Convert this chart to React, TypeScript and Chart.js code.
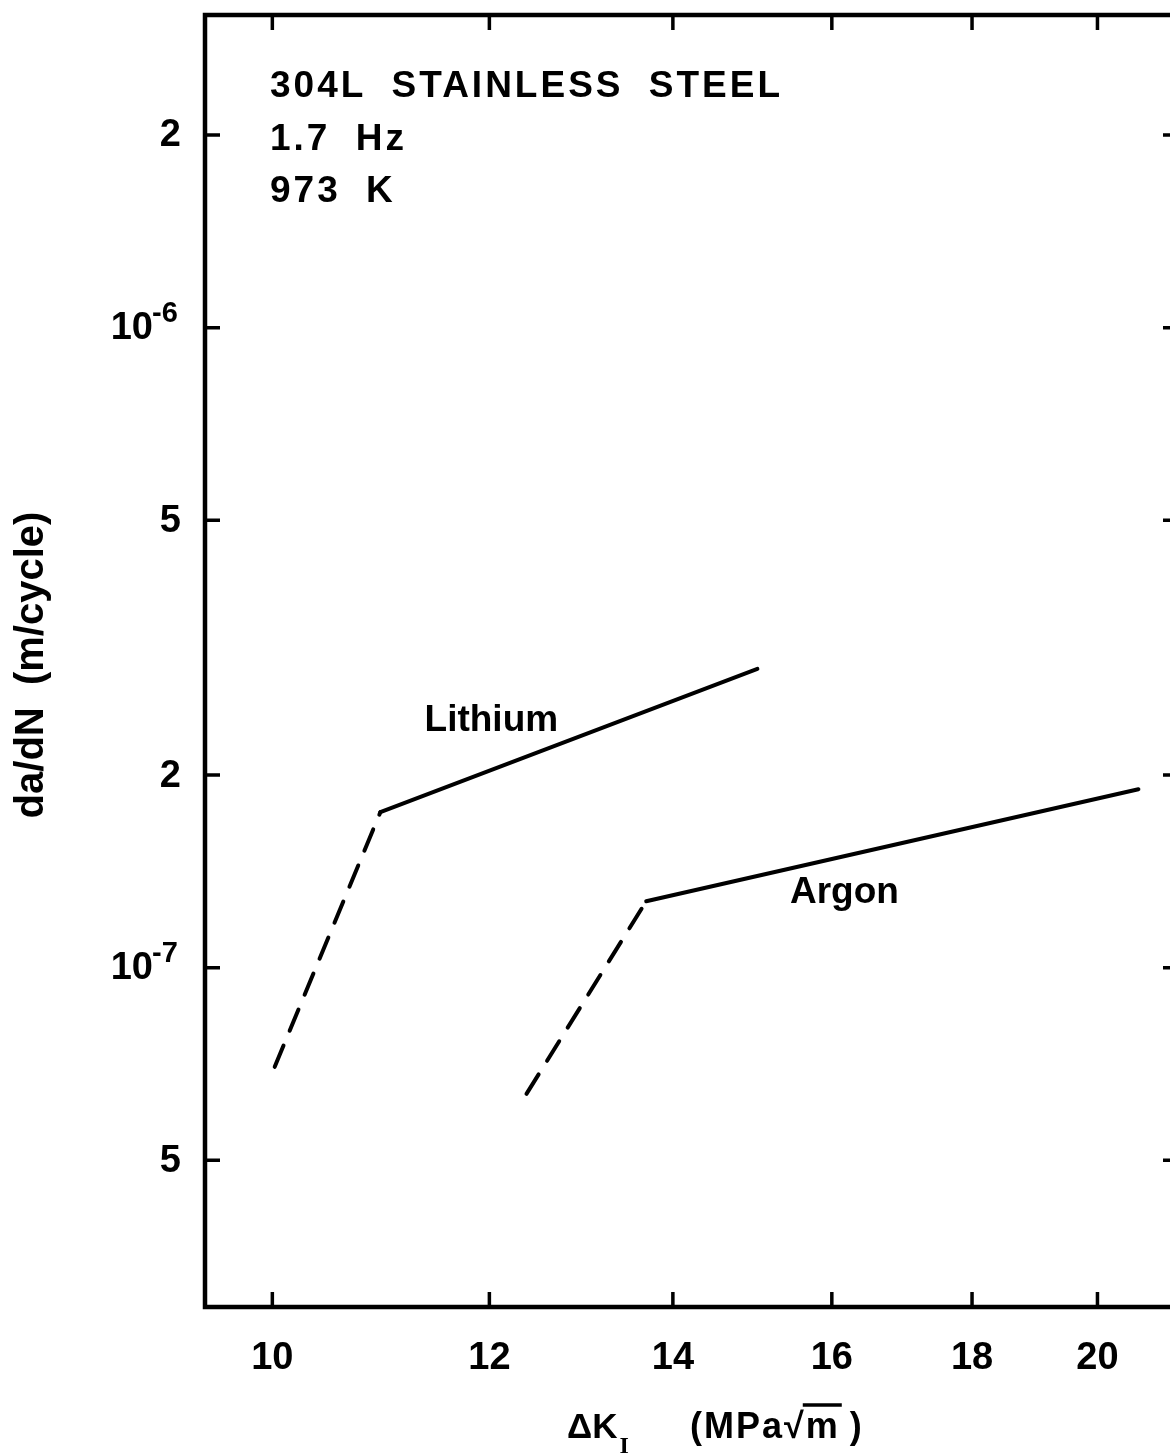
import React, { useEffect, useRef } from "react";
import { Chart, registerables } from "chart.js";

Chart.register(...registerables);

// Axis ranges (log-log)
const kRange = [9.45, 21.4];
const rateRange = [2.95e-8, 3.08e-6];

// Tick marks and their labels
const kTicks = [10, 12, 14, 16, 18, 20];
const kTickLabels = ["10", "12", "14", "16", "18", "20"];
const rateTicks = [5e-8, 1e-7, 2e-7, 5e-7, 1e-6, 2e-6];
const rateTickMantissa = ["5", "10", "2", "5", "10", "2"];
const rateTickExponent = ["", "-7", "", "", "-6", ""];

// Lithium environment: threshold (dashed) and Paris-regime (solid) segments
const lithiumDashedK = [10.02, 10.95];
const lithiumDashedRate = [7.0e-8, 1.75e-7];
const lithiumSolidK = [10.95, 15.03];
const lithiumSolidRate = [1.75e-7, 2.93e-7];

// Argon environment
const argonDashedK = [12.38, 13.69];
const argonDashedRate = [6.35e-8, 1.27e-7];
const argonSolidK = [13.69, 20.7];
const argonSolidRate = [1.27e-7, 1.9e-7];

// Curve labels, anchored in data coordinates (centre x, baseline y)
const curveNames = ["Lithium", "Argon"];
const curveNameK = [12.02, 16.17];
const curveNameRate = [2.34e-7, 1.264e-7];

// Test conditions
const conditionLines = ["304L STAINLESS STEEL", "1.7 Hz", "973 K"];

const FONT = '"Liberation Sans", Arial, sans-serif';
const INK = "#000";

function segment(xs: number[], ys: number[], dashed: boolean) {
  return {
    data: xs.map((x, i) => ({ x, y: ys[i] })),
    borderColor: INK,
    borderWidth: 4,
    borderDash: dashed ? [23, 16] : [],
    borderCapStyle: "round" as const,
    pointRadius: 0,
    fill: false,
    tension: 0,
  };
}

export default function App() {
  const canvasRef = useRef<HTMLCanvasElement>(null);

  useEffect(() => {
    const canvas = canvasRef.current;
    if (!canvas) return;

    const framePlugin = {
      id: "frame",
      afterDraw(chart: any) {
        const ctx: CanvasRenderingContext2D = chart.ctx;
        const { left, right, top, bottom } = chart.chartArea;
        const xs = chart.scales.x;
        const ys = chart.scales.y;
        ctx.save();
        ctx.strokeStyle = INK;
        ctx.fillStyle = INK;

        // plot frame
        ctx.lineWidth = 4.5;
        ctx.strokeRect(left, top, right - left, bottom - top);

        // inward ticks on all four sides
        const tl = 15;
        ctx.lineWidth = 3.5;
        ctx.beginPath();
        kTicks.forEach((k) => {
          const px = xs.getPixelForValue(k);
          ctx.moveTo(px, bottom);
          ctx.lineTo(px, bottom - tl);
          ctx.moveTo(px, top);
          ctx.lineTo(px, top + tl);
        });
        rateTicks.forEach((r) => {
          const py = ys.getPixelForValue(r);
          ctx.moveTo(left, py);
          ctx.lineTo(left + tl, py);
          ctx.moveTo(right, py);
          ctx.lineTo(right - tl, py);
        });
        ctx.stroke();

        // x tick labels
        ctx.font = `bold 38px ${FONT}`;
        ctx.textAlign = "center";
        ctx.textBaseline = "middle";
        kTicks.forEach((k, i) => {
          ctx.fillText(kTickLabels[i], xs.getPixelForValue(k), bottom + 52);
        });

        // y tick labels, powers of ten with a superscript exponent
        rateTicks.forEach((r, i) => {
          const py = ys.getPixelForValue(r);
          ctx.textBaseline = "middle";
          if (rateTickExponent[i]) {
            ctx.font = `bold 38px ${FONT}`;
            ctx.textAlign = "right";
            ctx.fillText(rateTickMantissa[i], 153, py + 1);
            ctx.font = `bold 29px ${FONT}`;
            ctx.textAlign = "left";
            ctx.textBaseline = "alphabetic";
            ctx.fillText(rateTickExponent[i], 152, py - 6);
          } else {
            ctx.font = `bold 38px ${FONT}`;
            ctx.textAlign = "right";
            ctx.fillText(rateTickMantissa[i], 181, py + 1);
          }
        });

        // y axis title
        ctx.save();
        ctx.translate(32, 665);
        ctx.rotate(-Math.PI / 2);
        ctx.font = `bold 40px ${FONT}`;
        ctx.textAlign = "center";
        ctx.textBaseline = "middle";
        ctx.fillText("da/dN  (m/cycle)", 0, 0);
        ctx.restore();

        // x axis title: ΔK_I  (MPa√m)
        ctx.textAlign = "left";
        ctx.textBaseline = "alphabetic";
        const base = 1438;
        let x = 567;
        ctx.font = `bold 35px ${FONT}`;
        ctx.fillText("ΔK", x, base);
        x += ctx.measureText("ΔK").width + 2;
        ctx.font = `bold 24px "Liberation Serif", serif`;
        ctx.fillText("I", x, base + 15);
        x = 690;
        ctx.font = `bold 36px ${FONT}`;
        (ctx as any).letterSpacing = "2px";
        ctx.fillText("(MPa", x, base);
        x += ctx.measureText("(MPa").width;
        ctx.fillText("√", x, base);
        x += ctx.measureText("√").width;
        ctx.fillText("m", x, base);
        const mW = ctx.measureText("m").width;
        ctx.lineWidth = 3.5;
        ctx.beginPath();
        ctx.moveTo(x - 3, base - 33);
        ctx.lineTo(x + mW + 2, base - 33);
        ctx.stroke();
        x += mW + 10;
        ctx.fillText(")", x, base);

        // test conditions
        ctx.font = `bold 37px ${FONT}`;
        (ctx as any).letterSpacing = "3px";
        (ctx as any).wordSpacing = "12px";
        conditionLines.forEach((t, i) => {
          ctx.fillText(t, left + 65, top + 82 + i * 52.5);
        });

        // curve labels
        (ctx as any).wordSpacing = "0px";
        (ctx as any).letterSpacing = "0px";
        ctx.font = `bold 37px ${FONT}`;
        ctx.textAlign = "center";
        curveNames.forEach((n, i) => {
          ctx.fillText(n, xs.getPixelForValue(curveNameK[i]), ys.getPixelForValue(curveNameRate[i]));
        });
        ctx.restore();
      },
    };

    const chart = new Chart(canvas, {
      type: "line",
      data: {
        datasets: [
          segment(lithiumDashedK, lithiumDashedRate, true),
          segment(lithiumSolidK, lithiumSolidRate, false),
          segment(argonDashedK, argonDashedRate, true),
          segment(argonSolidK, argonSolidRate, false),
        ] as any,
      },
      options: {
        responsive: false,
        maintainAspectRatio: false,
        animation: false,
        layout: { padding: { left: 0, top: 15, right: 12, bottom: 0 } },
        plugins: { legend: { display: false }, tooltip: { enabled: false } },
        scales: {
          x: {
            type: "logarithmic",
            min: kRange[0],
            max: kRange[1],
            ticks: { display: false },
            grid: { display: false },
            border: { display: false },
            afterFit: (s: any) => {
              s.height = 148;
            },
          },
          y: {
            type: "logarithmic",
            min: rateRange[0],
            max: rateRange[1],
            ticks: { display: false },
            grid: { display: false },
            border: { display: false },
            afterFit: (s: any) => {
              s.width = 205;
            },
          },
        },
      },
      plugins: [framePlugin],
    });

    return () => chart.destroy();
  }, []);

  return (
    <div
      style={{
        position: "absolute",
        left: 0,
        top: 0,
        width: 1170,
        height: 1455,
        overflow: "hidden",
        background: "#fff",
      }}
    >
      <canvas ref={canvasRef} width={1190} height={1455} style={{ display: "block" }} />
    </div>
  );
}
